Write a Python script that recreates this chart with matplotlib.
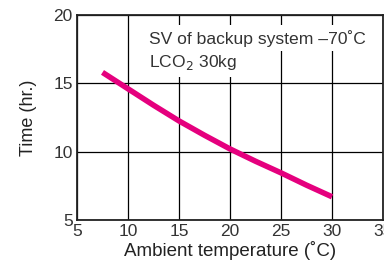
import matplotlib.pyplot as plt

# values
temp = [7.5, 10, 12.5, 15, 17.5, 20, 22.5, 25, 27.5, 30]
hours = [15.8, 14.6, 13.4, 12.25, 11.2, 10.2, 9.3, 8.45, 7.55, 6.7]

xticks = [5, 10, 15, 20, 25, 30, 35]
xlabels = ['5', '10', '15', '20', '25', '30', '35']
yticks = [5, 10, 15, 20]

plt.rcParams['font.family'] = ['Liberation Sans Narrow', 'Liberation Sans', 'DejaVu Sans']

fig = plt.figure(figsize=(3.84, 2.69), dpi=100)
ax = fig.add_axes([77/384, 49/269, 306/384, 205/269])

ax.plot(temp, hours, color='#e5007e', lw=4, solid_capstyle='butt', zorder=4)

ax.set_xlim(5, 35)
ax.set_ylim(5, 20)
ax.set_xticks(xticks)
ax.set_xticklabels(xlabels)
ax.set_yticks(yticks)
ax.grid(True, color='black', lw=0.9)
ax.set_axisbelow(True)
ax.tick_params(length=0, labelsize=12.5, colors='#333333', pad=3)
for s in ax.spines.values():
    s.set_linewidth(1.3)
    s.set_color('#222222')

ax.set_xlabel('Ambient temperature (˚C)', fontsize=13.5, family=['Liberation Sans', 'DejaVu Sans'],
              color='#222222', labelpad=1)
ax.set_ylabel('Time (hr.)', fontsize=13, family=['Liberation Sans', 'DejaVu Sans'],
              color='#222222', labelpad=12)

ax.text(12.1, 18.3, 'SV of backup system –70˚C', fontsize=12.6, color='#333333',
        family=['Liberation Sans', 'DejaVu Sans'], va='center', zorder=3,
        bbox=dict(facecolor='white', edgecolor='none', boxstyle='square,pad=0.25'))
ax.text(12.1, 16.5, 'LCO$_2$ 30kg', fontsize=12.6, color='#333333',
        family=['Liberation Sans', 'DejaVu Sans'], va='center', zorder=3,
        bbox=dict(facecolor='white', edgecolor='none', boxstyle='square,pad=0.25'))

fig.savefig('out.png', dpi=100)
